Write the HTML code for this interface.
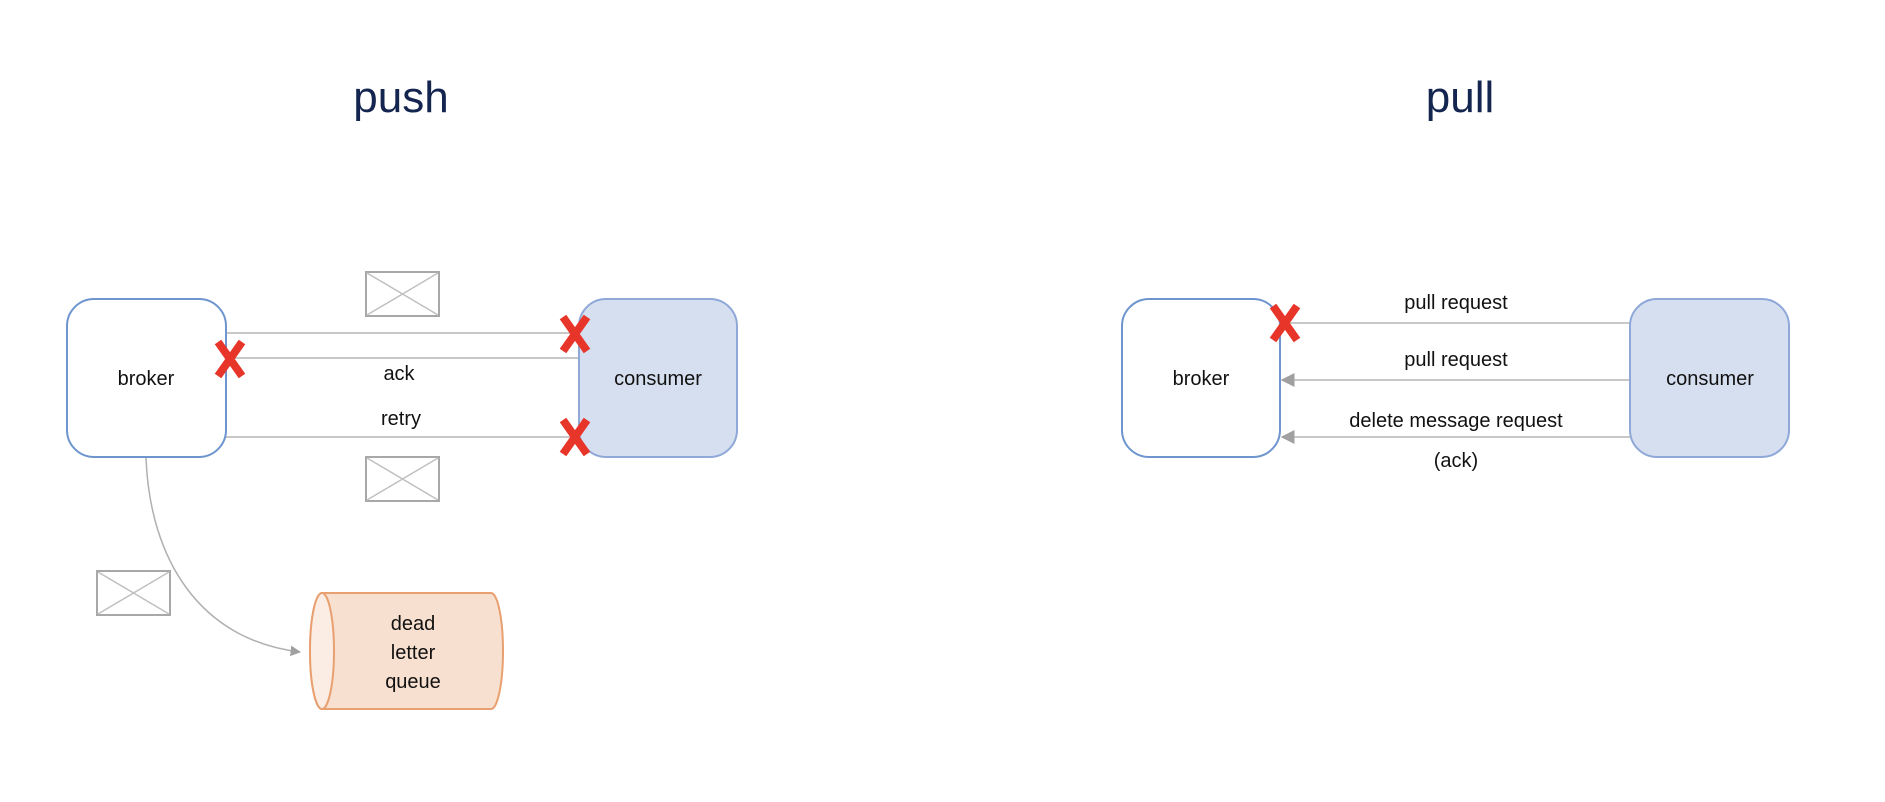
<!DOCTYPE html>
<html><head><meta charset="utf-8"><style>
html,body{margin:0;padding:0;background:#fff;}
svg{display:block;font-family:"Liberation Sans",sans-serif;}
</style></head><body>
<svg width="1885" height="802" viewBox="0 0 1885 802">
<defs>
<marker id="ah" viewBox="0 0 10 10" refX="9" refY="5" markerWidth="7" markerHeight="7" orient="auto-start-reverse"><path d="M0,0 L10,5 L0,10 z" fill="#a0a0a0"/></marker>
<g id="env"><rect x="0" y="0" width="73" height="44" fill="#fff" stroke="#a8a8a8" stroke-width="2"/><path d="M1,1 L72,43 M72,1 L1,43" stroke="#c0c0c0" stroke-width="1.5"/></g>
<g id="xm"><path d="M-12,-17 L12,17 M12,-17 L-12,17" stroke="#e8352a" stroke-width="8" stroke-linecap="butt"/></g>
</defs>
<text x="401" y="112" font-size="44" fill="#14254f" text-anchor="middle">push</text>
<text x="1460" y="112" font-size="44" fill="#14254f" text-anchor="middle">pull</text>

<g>
<line x1="226" y1="333" x2="579" y2="333" stroke="#c8c8c8" stroke-width="2"/>
<line x1="226" y1="358" x2="579" y2="358" stroke="#c8c8c8" stroke-width="2"/>
<line x1="226" y1="437" x2="579" y2="437" stroke="#c8c8c8" stroke-width="2"/>
<rect x="67" y="299" width="159" height="158" rx="27" fill="#fff" stroke="#6f95cf" stroke-width="2"/>
<text x="146" y="385" font-size="20" text-anchor="middle" fill="#111">broker</text>
<rect x="579" y="299" width="158" height="158" rx="27" fill="#d6dff0" stroke="#8fa8d8" stroke-width="2"/>
<text x="658" y="385" font-size="20" text-anchor="middle" fill="#111">consumer</text>
<text x="399" y="380" font-size="20" text-anchor="middle" fill="#111">ack</text>
<text x="401" y="425" font-size="20" text-anchor="middle" fill="#111">retry</text>
<use href="#env" x="366" y="272"/>
<use href="#env" x="366" y="457"/>
<use href="#env" x="97" y="571"/>
<use href="#xm" x="230" y="359"/>
<use href="#xm" x="575" y="334"/>
<use href="#xm" x="575" y="437"/>
<path d="M146,458 C150,560 200,640 300,652" fill="none" stroke="#b0b0b0" stroke-width="1.5" marker-end="url(#ah)"/>
<g>
<path d="M322,593 L491,593 A12,58 0 0 1 491,709 L322,709 A12,58 0 0 1 322,593 z" fill="#f8e0d0" stroke="#e8a070" stroke-width="2"/>
<ellipse cx="322" cy="651" rx="12" ry="58" fill="#fbede4" stroke="#e8a070" stroke-width="2"/>
<text x="413" y="630" font-size="20" text-anchor="middle" fill="#111">dead</text>
<text x="413" y="659" font-size="20" text-anchor="middle" fill="#111">letter</text>
<text x="413" y="688" font-size="20" text-anchor="middle" fill="#111">queue</text>
</g>
</g>

<g>
<line x1="1630" y1="323" x2="1281" y2="323" stroke="#c8c8c8" stroke-width="2"/>
<line x1="1630" y1="380" x2="1282" y2="380" stroke="#c8c8c8" stroke-width="2" marker-end="url(#ah)"/>
<line x1="1630" y1="437" x2="1282" y2="437" stroke="#c8c8c8" stroke-width="2" marker-end="url(#ah)"/>
<rect x="1122" y="299" width="158" height="158" rx="27" fill="#fff" stroke="#6f95cf" stroke-width="2"/>
<text x="1201" y="385" font-size="20" text-anchor="middle" fill="#111">broker</text>
<rect x="1630" y="299" width="159" height="158" rx="27" fill="#d6dff0" stroke="#8fa8d8" stroke-width="2"/>
<text x="1710" y="385" font-size="20" text-anchor="middle" fill="#111">consumer</text>
<text x="1456" y="309" font-size="20" text-anchor="middle" fill="#111">pull request</text>
<text x="1456" y="366" font-size="20" text-anchor="middle" fill="#111">pull request</text>
<text x="1456" y="427" font-size="20" text-anchor="middle" fill="#111">delete message request</text>
<text x="1456" y="467" font-size="20" text-anchor="middle" fill="#111">(ack)</text>
<use href="#xm" x="1285" y="323"/>
</g>
</svg>
</body></html>
